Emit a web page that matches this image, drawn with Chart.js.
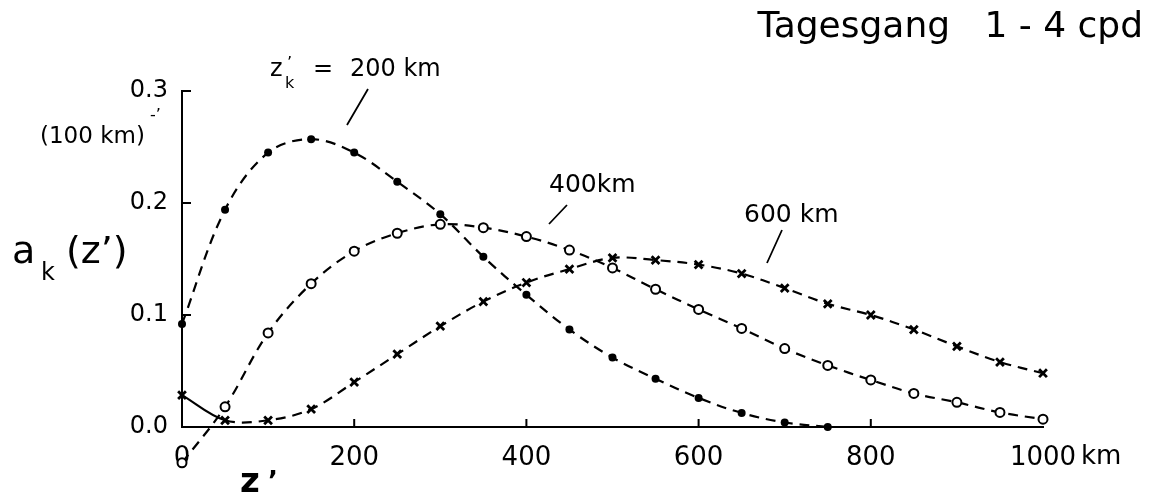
<!DOCTYPE html>
<html lang="de">
<head>
    <meta charset="UTF-8">
    <title>Tagesgang 1 - 4 cpd</title>
    <script src="https://cdn.jsdelivr.net/npm/chart.js"></script>
    <style>
        body {
            margin: 0;
            background: #fff;
        }
        #wrap {
            width: 1158px;
            height: 497px;
        }
    </style>
</head>
<body>
    <div id="wrap">
        <canvas id="chart" width="1158" height="497"></canvas>
    </div>
    <script>
        // Abstand z' in km (Stützstellen alle 50 km)
        const zPrime = [0, 50, 100, 150, 200, 250, 300, 350, 400, 450, 500,
                        550, 600, 650, 700, 750, 800, 850, 900, 950, 1000];

        // a_k(z') in (100 km)^-1
        const a200 = [0.092, 0.194, 0.245, 0.257, 0.245, 0.219, 0.190, 0.152, 0.118, 0.087, 0.062,
                      0.043, 0.026, 0.0125, 0.004, 0.0];
        const a400 = [-0.032, 0.018, 0.084, 0.128, 0.157, 0.173, 0.181, 0.178, 0.170, 0.158, 0.142,
                      0.123, 0.105, 0.088, 0.070, 0.055, 0.042, 0.030, 0.022, 0.013, 0.007];
        const a600 = [0.0285, 0.006, 0.006, 0.016, 0.040, 0.065, 0.090, 0.112, 0.129, 0.141, 0.151,
                      0.149, 0.145, 0.137, 0.124, 0.110, 0.100, 0.087, 0.072, 0.058, 0.048];

        const xTicks = [200, 400, 600, 800];
        const yTicks = [0.1, 0.2, 0.3];

        const FONT = '"DejaVu Sans", sans-serif';
        const dash = [10, 7];

        function toPoints(vals) {
            return vals.map((v, i) => ({ x: zPrime[i], y: v }));
        }

        // Beschriftungen, Hinweislinien und nach innen zeigende Ticks
        const beschriftung = {
            id: 'beschriftung',
            afterDraw(chart) {
                const c = chart.ctx;
                const xs = chart.scales.x;
                const ys = chart.scales.y;
                c.save();
                c.fillStyle = '#000';
                c.strokeStyle = '#000';

                // Ticks nach innen
                c.lineWidth = 2;
                c.beginPath();
                xTicks.forEach(t => {
                    const px = xs.getPixelForValue(t);
                    c.moveTo(px, ys.bottom);
                    c.lineTo(px, ys.bottom - 8);
                });
                yTicks.forEach(t => {
                    const py = ys.getPixelForValue(t);
                    c.moveTo(xs.left, py);
                    c.lineTo(xs.left + 9, py);
                });
                c.stroke();

                // Kreise unterhalb der Achse (Chart.js zeichnet sie außerhalb der Fläche nicht)
                c.lineWidth = 2;
                a400.forEach((v, i) => {
                    if (v >= 0) return;
                    c.beginPath();
                    c.arc(xs.getPixelForValue(zPrime[i]), ys.getPixelForValue(v), 4.5, 0, Math.PI * 2);
                    c.fillStyle = '#fff';
                    c.fill();
                    c.stroke();
                });
                c.fillStyle = '#000';

                // Titel
                c.textAlign = 'right';
                c.textBaseline = 'alphabetic';
                c.font = '36px ' + FONT;
                c.fillText('Tagesgang   1 - 4 cpd', 1143, 37, 392);

                // z'_k = 200 km
                c.textAlign = 'left';
                c.font = '24px ' + FONT;
                c.fillText('z', 270, 76);
                c.fillText('=', 313, 76);
                c.fillText('200 km', 350, 76);
                c.font = '16px ' + FONT;
                c.fillText('k', 285, 88);
                c.fillText('\u2019', 287, 68);

                c.font = '25px ' + FONT;
                c.fillText('400km', 549, 192);
                c.fillText('600 km', 744, 222);

                // Hinweislinien
                c.lineWidth = 1.8;
                c.beginPath();
                c.moveTo(368, 89); c.lineTo(347, 125);
                c.moveTo(567, 205); c.lineTo(549, 224);
                c.moveTo(782, 230); c.lineTo(767, 263);
                c.stroke();

                // Einheit der y-Achse
                c.font = '23px ' + FONT;
                c.fillText('(100 km)', 40, 143);
                c.font = '16px ' + FONT;
                c.fillText('-\u2019', 150, 120);

                // a_k (z')
                c.font = '38px ' + FONT;
                c.fillText('a', 12, 263);
                c.fillText('(z\u2019)', 66, 263);
                c.font = '24px ' + FONT;
                c.fillText('k', 41, 280);

                // z' unter der x-Achse
                c.font = 'bold 34px ' + FONT;
                c.fillText('z', 240, 492);
                c.font = 'bold 26px ' + FONT;
                c.fillText('\u2019', 268, 490);

                // km hinter 1000
                c.font = '26px ' + FONT;
                c.textBaseline = 'middle';
                c.fillText('km', 1081, ys.bottom + 30);
                c.restore();
            }
        };

        const ctx = document.getElementById('chart').getContext('2d');
        new Chart(ctx, {
            type: 'line',
            data: {
                datasets: [{
                    label: "z'k = 200 km",
                    data: toPoints(a200),
                    borderColor: '#000',
                    borderWidth: 2.2,
                    borderDash: dash,
                    pointStyle: 'circle',
                    pointRadius: 4,
                    pointBackgroundColor: '#000',
                    pointBorderWidth: 0,
                    tension: 0.35,
                    clip: false
                }, {
                    label: '400 km',
                    data: toPoints(a400),
                    borderColor: '#000',
                    borderWidth: 2.2,
                    borderDash: dash,
                    pointStyle: 'circle',
                    pointRadius: 4.5,
                    pointBackgroundColor: '#fff',
                    pointBorderColor: '#000',
                    pointBorderWidth: 2,
                    tension: 0.35,
                    clip: false
                }, {
                    label: '600 km',
                    data: toPoints(a600),
                    borderColor: '#000',
                    borderWidth: 2.2,
                    borderDash: dash,
                    segment: {
                        borderDash: s => s.p0DataIndex === 0 ? [] : dash
                    },
                    pointStyle: 'crossRot',
                    pointRadius: 5.5,
                    pointBorderColor: '#000',
                    pointBorderWidth: 2.8,
                    tension: 0.35,
                    clip: false
                }]
            },
            options: {
                responsive: false,
                animation: false,
                layout: {
                    padding: { top: 91, right: 115, left: 0, bottom: 0 }
                },
                plugins: {
                    legend: { display: false },
                    tooltip: { enabled: false }
                },
                scales: {
                    x: {
                        type: 'linear',
                        min: 0,
                        max: 1000,
                        afterFit: s => { s.height = 70; },
                        ticks: {
                            stepSize: 200,
                            padding: 16,
                            color: '#000',
                            font: { family: FONT, size: 26 },
                            callback: v => String(v)
                        },
                        grid: { drawOnChartArea: false, drawTicks: false },
                        border: { color: '#000', width: 2 }
                    },
                    y: {
                        min: 0,
                        max: 0.3,
                        afterFit: s => { s.width = 182; },
                        ticks: {
                            stepSize: 0.1,
                            padding: 14,
                            color: '#000',
                            font: { family: FONT, size: 24 },
                            callback: v => v.toFixed(1)
                        },
                        grid: { drawOnChartArea: false, drawTicks: false },
                        border: { color: '#000', width: 2 }
                    }
                }
            },
            plugins: [beschriftung]
        });
    </script>
</body>
</html>
